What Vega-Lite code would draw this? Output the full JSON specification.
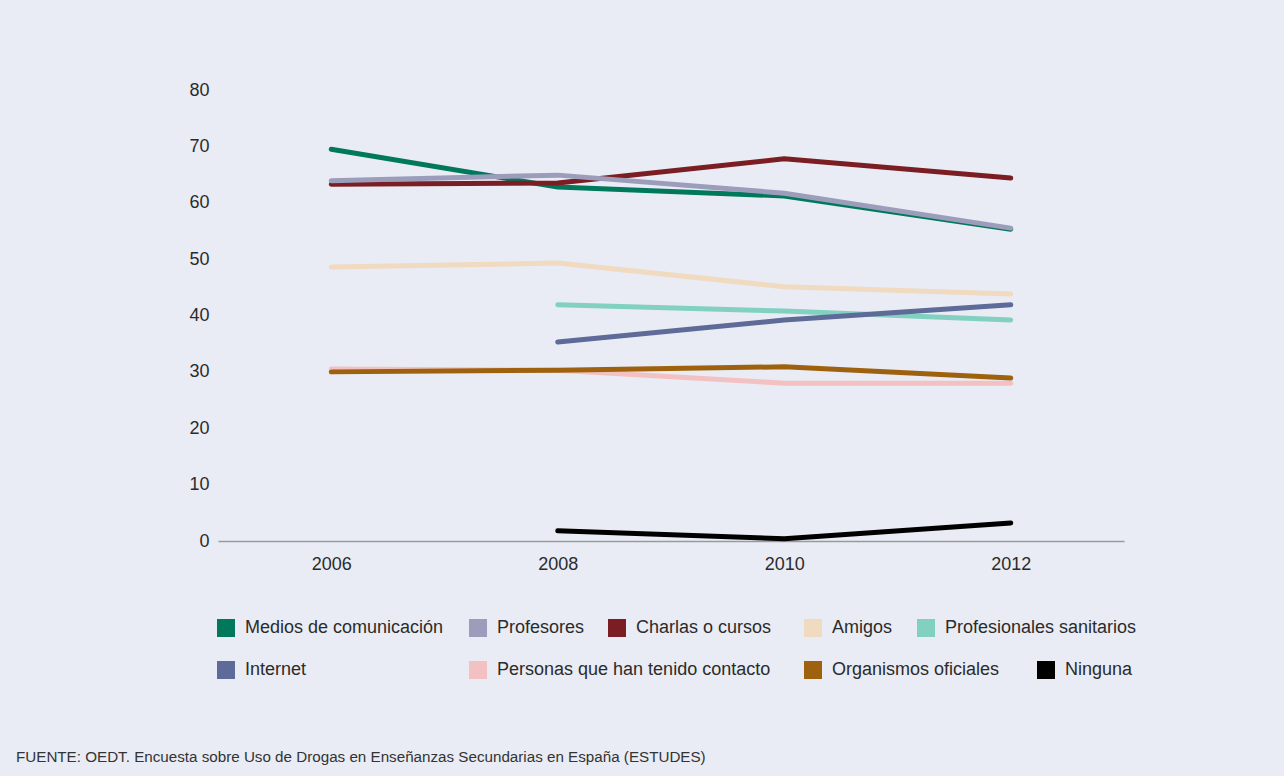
{
  "$schema": "https://vega.github.io/schema/vega-lite/v6.json",
  "width": 906,
  "height": 451,
  "autosize": {"type": "none"},
  "padding": {"left": 218, "top": 90, "right": 160, "bottom": 235},
  "background": "#e9ecf4",
  "config": {
    "view": {"stroke": null},
    "font": "Liberation Sans",
    "legend": {
      "orient": "none",
      "padding": 0,
      "symbolType": "square",
      "symbolSize": 64,
      "symbolStrokeWidth": 10,
      "labelOffset": 10,
      "labelFontSize": 18,
      "labelColor": "#2b2b2b",
      "labelFont": "Liberation Sans",
      "title": null,
      "labelLimit": 400
    }
  },
  "title": {
    "text": "FUENTE: OEDT. Encuesta sobre Uso de Drogas en Enseñanzas Secundarias en España (ESTUDES)",
    "orient": "bottom",
    "anchor": "start",
    "frame": "group",
    "dx": -202,
    "offset": 56,
    "fontSize": 15.2,
    "fontWeight": "normal",
    "color": "#333333",
    "font": "Liberation Sans"
  },
  "data": {
    "values": [
      {"serie": "Medios de comunicación", "year": "2006", "value": 69.5},
      {"serie": "Medios de comunicación", "year": "2008", "value": 62.8},
      {"serie": "Medios de comunicación", "year": "2010", "value": 61.2},
      {"serie": "Medios de comunicación", "year": "2012", "value": 55.3},
      {"serie": "Profesores", "year": "2006", "value": 63.9},
      {"serie": "Profesores", "year": "2008", "value": 64.9},
      {"serie": "Profesores", "year": "2010", "value": 61.7},
      {"serie": "Profesores", "year": "2012", "value": 55.5},
      {"serie": "Charlas o cursos", "year": "2006", "value": 63.3},
      {"serie": "Charlas o cursos", "year": "2008", "value": 63.5},
      {"serie": "Charlas o cursos", "year": "2010", "value": 67.8},
      {"serie": "Charlas o cursos", "year": "2012", "value": 64.4},
      {"serie": "Amigos", "year": "2006", "value": 48.6},
      {"serie": "Amigos", "year": "2008", "value": 49.3},
      {"serie": "Amigos", "year": "2010", "value": 45.1},
      {"serie": "Amigos", "year": "2012", "value": 43.8},
      {"serie": "Profesionales sanitarios", "year": "2008", "value": 41.9},
      {"serie": "Profesionales sanitarios", "year": "2010", "value": 40.8},
      {"serie": "Profesionales sanitarios", "year": "2012", "value": 39.2},
      {"serie": "Internet", "year": "2008", "value": 35.3},
      {"serie": "Internet", "year": "2010", "value": 39.2},
      {"serie": "Internet", "year": "2012", "value": 41.9},
      {"serie": "Personas que han tenido contacto", "year": "2006", "value": 30.5},
      {"serie": "Personas que han tenido contacto", "year": "2008", "value": 30.3},
      {"serie": "Personas que han tenido contacto", "year": "2010", "value": 28.0},
      {"serie": "Personas que han tenido contacto", "year": "2012", "value": 28.0},
      {"serie": "Organismos oficiales", "year": "2006", "value": 30.0},
      {"serie": "Organismos oficiales", "year": "2008", "value": 30.3},
      {"serie": "Organismos oficiales", "year": "2010", "value": 30.9},
      {"serie": "Organismos oficiales", "year": "2012", "value": 28.9},
      {"serie": "Ninguna", "year": "2008", "value": 1.8},
      {"serie": "Ninguna", "year": "2010", "value": 0.4},
      {"serie": "Ninguna", "year": "2012", "value": 3.2}
    ]
  },
  "encoding": {
    "x": {
      "field": "year",
      "type": "ordinal",
      "scale": {"type": "point", "padding": 0.5},
      "axis": {
        "title": null,
        "labelAngle": 0,
        "ticks": false,
        "grid": false,
        "domainColor": "#9a9a9a",
        "domainWidth": 1.5,
        "labelPadding": 14,
        "labelFontSize": 18,
        "labelColor": "#2b2b2b",
        "labelFont": "Liberation Sans"
      }
    },
    "y": {
      "field": "value",
      "type": "quantitative",
      "scale": {"domain": [0, 80], "nice": false},
      "axis": {
        "title": null,
        "values": [0, 10, 20, 30, 40, 50, 60, 70, 80],
        "domain": false,
        "ticks": false,
        "grid": false,
        "labelPadding": 9,
        "labelFontSize": 18,
        "labelColor": "#2b2b2b",
        "labelFont": "Liberation Sans"
      }
    }
  },
  "layer": [
    {
      "transform": [{"filter": "datum.serie === 'Medios de comunicación'"}],
      "mark": {"type": "line", "strokeWidth": 5, "strokeCap": "round", "strokeJoin": "round"},
      "encoding": {"color": {"field": "serie", "type": "nominal", "scale": {"range": ["#00785c"]},
        "legend": {"legendX": -1, "legendY": 529}}}
    },
    {
      "transform": [{"filter": "datum.serie === 'Charlas o cursos'"}],
      "mark": {"type": "line", "strokeWidth": 5, "strokeCap": "round", "strokeJoin": "round"},
      "encoding": {"color": {"field": "serie", "type": "nominal", "scale": {"range": ["#7b1e24"]},
        "legend": {"legendX": 390, "legendY": 529}}}
    },
    {
      "transform": [{"filter": "datum.serie === 'Profesores'"}],
      "mark": {"type": "line", "strokeWidth": 5, "strokeCap": "round", "strokeJoin": "round"},
      "encoding": {"color": {"field": "serie", "type": "nominal", "scale": {"range": ["#9b9dbb"]},
        "legend": {"legendX": 251, "legendY": 529}}}
    },
    {
      "transform": [{"filter": "datum.serie === 'Amigos'"}],
      "mark": {"type": "line", "strokeWidth": 5, "strokeCap": "round", "strokeJoin": "round"},
      "encoding": {"color": {"field": "serie", "type": "nominal", "scale": {"range": ["#f0dac0"]},
        "legend": {"legendX": 586, "legendY": 529}}}
    },
    {
      "transform": [{"filter": "datum.serie === 'Profesionales sanitarios'"}],
      "mark": {"type": "line", "strokeWidth": 5, "strokeCap": "round", "strokeJoin": "round"},
      "encoding": {"color": {"field": "serie", "type": "nominal", "scale": {"range": ["#82d0c0"]},
        "legend": {"legendX": 699, "legendY": 529}}}
    },
    {
      "transform": [{"filter": "datum.serie === 'Internet'"}],
      "mark": {"type": "line", "strokeWidth": 5, "strokeCap": "round", "strokeJoin": "round"},
      "encoding": {"color": {"field": "serie", "type": "nominal", "scale": {"range": ["#5e6a98"]},
        "legend": {"legendX": -1, "legendY": 571}}}
    },
    {
      "transform": [{"filter": "datum.serie === 'Personas que han tenido contacto'"}],
      "mark": {"type": "line", "strokeWidth": 5, "strokeCap": "round", "strokeJoin": "round"},
      "encoding": {"color": {"field": "serie", "type": "nominal", "scale": {"range": ["#f3c1c1"]},
        "legend": {"legendX": 251, "legendY": 571}}}
    },
    {
      "transform": [{"filter": "datum.serie === 'Organismos oficiales'"}],
      "mark": {"type": "line", "strokeWidth": 5, "strokeCap": "round", "strokeJoin": "round"},
      "encoding": {"color": {"field": "serie", "type": "nominal", "scale": {"range": ["#9e620f"]},
        "legend": {"legendX": 586, "legendY": 571}}}
    },
    {
      "transform": [{"filter": "datum.serie === 'Ninguna'"}],
      "mark": {"type": "line", "strokeWidth": 5, "strokeCap": "round", "strokeJoin": "round"},
      "encoding": {"color": {"field": "serie", "type": "nominal", "scale": {"range": ["#000000"]},
        "legend": {"legendX": 819, "legendY": 571}}}
    }
  ],
  "resolve": {"scale": {"color": "independent"}, "legend": {"color": "independent"}}
}
